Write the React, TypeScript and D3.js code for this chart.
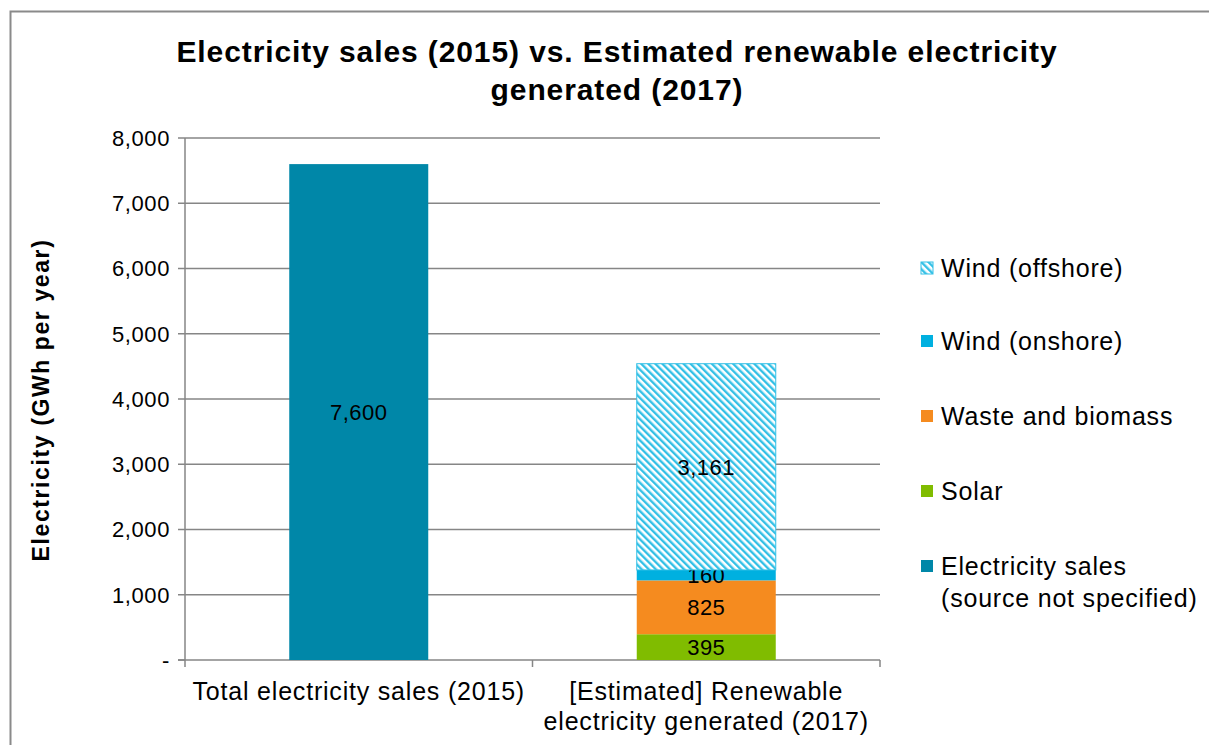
import React from "react";
import * as d3 from "d3";

const categories = ["Total electricity sales (2015)", "[Estimated] Renewable\nelectricity generated (2017)"];
const seriesNames = ["Electricity sales\n(source not specified)", "Solar", "Waste and biomass", "Wind (onshore)", "Wind (offshore)"];
const salesValues = [7600, 0];
const solarValues = [0, 395];
const wasteValues = [0, 825];
const onshoreValues = [0, 160];
const offshoreValues = [0, 3161];
const yTicks = [0, 1000, 2000, 3000, 4000, 5000, 6000, 7000, 8000];
const titleLines = ["Electricity sales (2015) vs. Estimated renewable electricity", "generated (2017)"];
const yLabel = "Electricity (GWh per year)";

const colors = ["#0087A8", "#80BC00", "#F58B1F", "#00B0E0", "url(#stripes)"];

export default function App() {
  const W = 1209, H = 745;
  const left = 185, right = 880, top = 138, bottom = 660;
  const x = d3.scaleBand<string>().domain(categories).range([left, right]).paddingInner(0.6).paddingOuter(0.3);
  const y = d3.scaleLinear().domain([0, 8000]).range([bottom, top]);
  const table = categories.map((c, i) => ({
    cat: c,
    s0: salesValues[i], s1: solarValues[i], s2: wasteValues[i], s3: onshoreValues[i], s4: offshoreValues[i],
  }));
  const keys = ["s0", "s1", "s2", "s3", "s4"];
  const stacked = d3.stack<any>().keys(keys)(table);
  const fmt = d3.format(",");
  const font = "'Liberation Sans', Arial, sans-serif";
  const step = (right - left) / categories.length;
  const legendOrder = [4, 3, 2, 1, 0];
  const legendY = [268, 341, 416, 491, 566];

  return (
    <svg width={W} height={H} style={{ position: "absolute", left: 0, top: 0, fontFamily: font }}>
      <defs>
        <pattern id="stripes" patternUnits="userSpaceOnUse" width={5} height={5} patternTransform="rotate(-45)">
          <rect width={5} height={5} fill="#ffffff" />
          <rect width={2.4} height={5} fill="#33C0E6" />
        </pattern>
      </defs>
      <rect x={0} y={0} width={W} height={H} fill="#fff" />
      <rect x={10.5} y={11.5} width={1230} height={800} fill="none" stroke="#8a8a8a" strokeWidth={2} />
      {titleLines.map((t, i) => (
        <text key={i} x={617} y={62 + i * 38} textAnchor="middle" fontSize={30} fontWeight="bold" letterSpacing={0.9}>{t}</text>
      ))}
      {yTicks.map((t) => (
        <g key={t}>
          <line x1={178} x2={t === 0 ? left : right} y1={y(t)} y2={y(t)} stroke="#868686" strokeWidth={1.5} />
          <text x={170} y={y(t)} dy="0.36em" textAnchor="end" fontSize={22} letterSpacing={0.6}>{t === 0 ? "-" : fmt(t)}</text>
        </g>
      ))}
      <line x1={left} x2={left} y1={top} y2={bottom} stroke="#868686" strokeWidth={1.5} />
      <line x1={178} x2={right} y1={bottom} y2={bottom} stroke="#868686" strokeWidth={1.5} />
      {d3.range(categories.length + 1).map((i) => (
        <line key={i} x1={left + i * step} x2={left + i * step} y1={bottom} y2={bottom + 7} stroke="#868686" strokeWidth={1.5} />
      ))}
      {stacked.map((layer, li) =>
        layer.map((d, ci) => {
          const v = d[1] - d[0];
          if (v <= 0) return null;
          const bx = x(categories[ci])!;
          const bw = x.bandwidth();
          const y0 = y(d[1]), y1 = y(d[0]);
          return (
            <g key={li + "-" + ci}>
              <rect x={bx} y={y0} width={bw} height={y1 - y0} fill={colors[li]}
                stroke={li === 4 ? "#33C0E6" : "none"} strokeWidth={li === 4 ? 1 : 0} />
              <text x={bx + bw / 2} y={(y0 + y1) / 2} dy="0.36em" textAnchor="middle" fontSize={22} letterSpacing={0.5}>{fmt(v)}</text>
            </g>
          );
        })
      )}
      {categories.map((c) => (
        <text key={c} x={x(c)! + x.bandwidth() / 2} y={700} textAnchor="middle" fontSize={25} letterSpacing={0.8}>
          {c.split("\n").map((l, i) => (
            <tspan key={i} x={x(c)! + x.bandwidth() / 2} dy={i === 0 ? 0 : 30}>{l}</tspan>
          ))}
        </text>
      ))}
      <text transform={`translate(49,400) rotate(-90)`} textAnchor="middle" fontSize={23} fontWeight="bold" letterSpacing={1.6}>{yLabel}</text>
      {legendOrder.map((si, k) => (
        <g key={si}>
          <rect x={921} y={legendY[k] - 6} width={12} height={12} fill={colors[si]}
            stroke={si === 4 ? "#33C0E6" : "none"} strokeWidth={1} />
          <text x={941} y={legendY[k]} fontSize={25} letterSpacing={0.8}>
            {seriesNames[si].split("\n").map((l, i) => (
              <tspan key={i} x={941} dy={i === 0 ? "0.36em" : 32}>{l}</tspan>
            ))}
          </text>
        </g>
      ))}
    </svg>
  );
}
